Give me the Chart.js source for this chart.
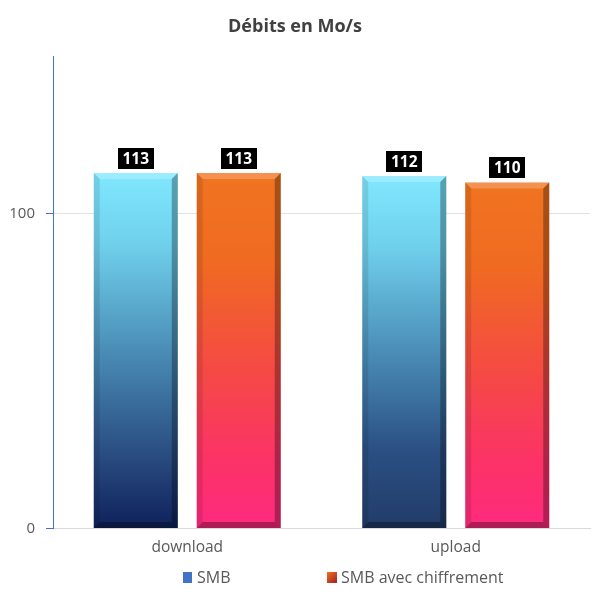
<!DOCTYPE html>
<html>
<head>
<meta charset="utf-8">
<script src="https://cdn.jsdelivr.net/npm/chart.js@4.4.0/dist/chart.umd.min.js"></script>
<style>
html,body{margin:0;padding:0;background:#fff;}
#wrap{width:603px;height:603px;position:relative;}
</style>
</head>
<body>
<div id="wrap"><canvas id="c" width="603" height="603"></canvas></div>
<script>
const categories = ["download", "upload"];
const seriesNames = ["SMB", "SMB avec chiffrement"];
const smbValues = [113, 112];
const smbChiffrementValues = [113, 110];
const yTickValues = [0, 100];
const yMax = 150;
const chartTitle = "Débits en Mo/s";

const FONT = '"Open Sans", "DejaVu Sans", sans-serif';

function barSpan(ctx) {
  const chart = ctx.chart;
  const ys = chart.scales && chart.scales.y;
  if (!ys || !chart.chartArea) return null;
  const v = ctx.raw;
  const top = ys.getPixelForValue(v);
  const base = ys.getPixelForValue(0);
  if (!isFinite(top) || !isFinite(base) || top === base) return null;
  return [top, base];
}
function smbGradient(ctx) {
  const s = barSpan(ctx);
  if (!s) return '#5bb8e0';
  const g = ctx.chart.ctx.createLinearGradient(0, s[0], 0, s[1]);
  g.addColorStop(0, '#80e8ff');
  g.addColorStop(0.2, '#70d0ec');
  g.addColorStop(0.5, '#4a8db6');
  g.addColorStop(0.78, '#2b4f83');
  g.addColorStop(1, ctx.dataIndex === 0 ? '#0f215c' : '#223c68');
  return g;
}
function chifGradient(ctx) {
  const s = barSpan(ctx);
  if (!s) return '#f05a30';
  const g = ctx.chart.ctx.createLinearGradient(0, s[0], 0, s[1]);
  g.addColorStop(0, '#f07420');
  g.addColorStop(0.25, '#f06a22');
  g.addColorStop(0.55, '#f54a44');
  g.addColorStop(0.8, '#fb3366');
  g.addColorStop(1, '#ff2a7e');
  return g;
}

const bevelPlugin = {
  id: 'bevel',
  afterDatasetsDraw(chart) {
    const c = chart.ctx;
    chart.data.datasets.forEach((ds, di) => {
      const meta = chart.getDatasetMeta(di);
      meta.data.forEach((el) => {
        const {x, y, base, width} = el.getProps(['x','y','base','width'], true);
        const l = x - width/2, r = x + width/2, t = y, b = base;
        const bv = 6;
        c.save();
        c.fillStyle = 'rgba(255,255,255,0.22)';
        c.beginPath(); c.moveTo(l, t); c.lineTo(r, t); c.lineTo(r - bv, t + bv); c.lineTo(l + bv, t + bv); c.closePath(); c.fill();
        c.fillStyle = 'rgba(0,0,0,0.30)';
        c.beginPath(); c.moveTo(r, t); c.lineTo(r, b); c.lineTo(r - bv, b - bv); c.lineTo(r - bv, t + bv); c.closePath(); c.fill();
        c.fillStyle = 'rgba(0,0,0,0.10)';
        c.beginPath(); c.moveTo(l, t); c.lineTo(l + bv, t + bv); c.lineTo(l + bv, b - bv); c.lineTo(l, b); c.closePath(); c.fill();
        c.fillStyle = 'rgba(0,0,0,0.32)';
        c.beginPath(); c.moveTo(l, b); c.lineTo(l + bv, b - bv); c.lineTo(r - bv, b - bv); c.lineTo(r, b); c.closePath(); c.fill();
        c.restore();
      });
    });
  }
};

const labelPlugin = {
  id: 'valueLabels',
  afterDatasetsDraw(chart) {
    const c = chart.ctx;
    c.save();
    c.font = 'bold 15.5px ' + FONT;
    c.textAlign = 'center';
    c.textBaseline = 'middle';
    chart.data.datasets.forEach((ds, di) => {
      const meta = chart.getDatasetMeta(di);
      meta.data.forEach((el, i) => {
        const {x, y} = el.getProps(['x','y'], true);
        const txt = String(ds.data[i]);
        const w = c.measureText(txt).width + 9;
        const h = 21;
        const bottom = y - 4;
        c.fillStyle = '#000';
        c.fillRect(Math.round(x - w/2), Math.round(bottom - h), Math.round(w), h);
        c.fillStyle = '#fff';
        c.fillText(txt, x, bottom - h/2 + 1);
      });
    });
    c.restore();
  }
};

const legendPlugin = {
  id: 'customLegend',
  afterDraw(chart) {
    const c = chart.ctx;
    const ly = 578;
    c.save();
    c.font = '16px ' + FONT;
    c.textBaseline = 'middle';
    c.textAlign = 'left';
    c.fillStyle = '#4472c4';
    c.fillRect(183, 572, 9, 11);
    c.fillStyle = '#595959';
    c.fillText(seriesNames[0], 197, ly);
    const g = c.createLinearGradient(327, 572, 337, 583);
    g.addColorStop(0, '#f07020');
    g.addColorStop(1, '#a02020');
    c.fillStyle = g;
    c.fillRect(327, 572, 10, 11);
    c.fillStyle = '#595959';
    c.fillText(seriesNames[1], 341, ly);
    c.restore();
  }
};

new Chart(document.getElementById('c'), {
  type: 'bar',
  data: {
    labels: categories,
    datasets: [
      { label: seriesNames[0], data: smbValues, backgroundColor: smbGradient, borderWidth: 0 },
      { label: seriesNames[1], data: smbChiffrementValues, backgroundColor: chifGradient, borderWidth: 0 }
    ]
  },
  options: {
    responsive: false,
    animation: false,
    devicePixelRatio: 1,
    layout: { padding: { top: 0, left: 0, right: 13, bottom: 36 } },
    datasets: { bar: { categoryPercentage: 0.767, barPercentage: 0.816 } },
    plugins: {
      legend: { display: false },
      tooltip: { enabled: false },
      title: {
        display: true,
        text: chartTitle,
        color: '#404040',
        font: { family: FONT, size: 18, weight: 'bold' },
        padding: { top: 16, bottom: 19 }
      }
    },
    scales: {
      x: {
        grid: { display: false, drawTicks: false },
        border: { display: true, color: '#d9d9d9', width: 1 },
        ticks: { color: '#595959', font: { family: FONT, size: 15.5 }, padding: 10 }
      },
      y: {
        min: 0,
        max: yMax,
        afterBuildTicks(scale) { scale.ticks = yTickValues.map(v => ({ value: v })); },
        afterFit(scale) { scale.width = 53; },
        grid: {
          color: (ctx) => ctx.tick && ctx.tick.value === 0 ? 'rgba(0,0,0,0)' : '#e2e2e2',
          tickColor: '#4472c4',
          tickLength: 7,
          drawTicks: true
        },
        border: { display: true, color: '#4472c4', width: 1 },
        ticks: { color: '#595959', font: { family: FONT, size: 15 }, padding: 11 }
      }
    }
  },
  plugins: [bevelPlugin, labelPlugin, legendPlugin]
});
</script>
</body>
</html>
